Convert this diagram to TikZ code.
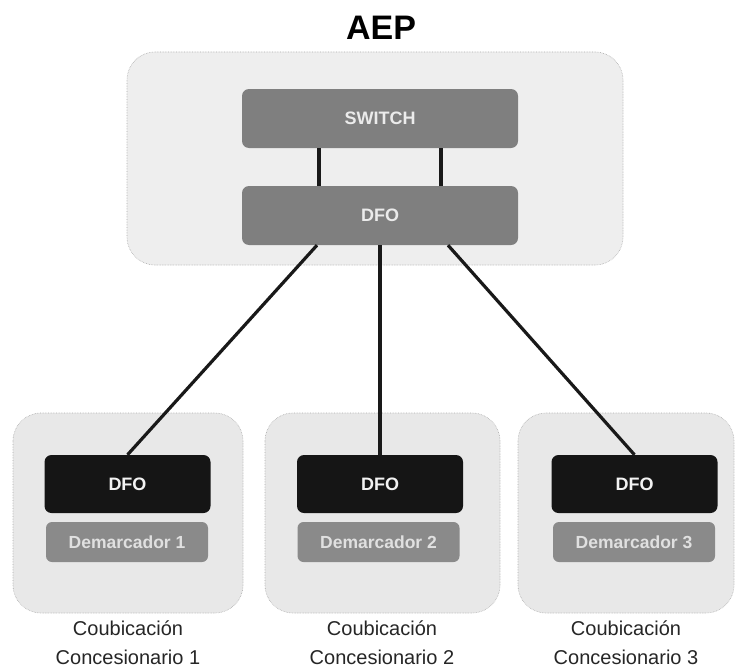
\documentclass[tikz,border=0pt]{standalone}
\usepackage{fontspec}
\setmainfont{Liberation Sans}
\definecolor{areafill}{HTML}{EEEEEE}
\definecolor{sitefill}{HTML}{E8E8E8}
\definecolor{midgray}{HTML}{7F7F7F}
\definecolor{demgray}{HTML}{8A8A8A}
\definecolor{darkbox}{HTML}{151515}
\begin{document}
\begin{tikzpicture}[x=1pt,y=-1pt,
  area/.style={draw=gray!65, densely dotted, line width=0.6pt, fill=areafill, rounded corners=28pt},
  site/.style={draw=gray!65, densely dotted, line width=0.6pt, fill=sitefill, rounded corners=28pt},
  graybox/.style={fill=midgray, rounded corners=7pt, text=white!92!black, font=\fontsize{18}{21}\selectfont\bfseries, minimum width=276pt, minimum height=59pt, inner sep=0pt},
  blackbox/.style={fill=darkbox, rounded corners=7pt, text=white!95!black, font=\fontsize{18}{21}\selectfont\bfseries, minimum width=166pt, minimum height=58pt, inner sep=0pt},
  dembox/.style={fill=demgray, rounded corners=6pt, text=white!88!black, font=\fontsize{17.5}{20}\selectfont\bfseries, minimum width=162pt, minimum height=40pt, inner sep=0pt},
  caption/.style={align=center, font=\fontsize{20}{29}\selectfont, text=black!85, inner sep=1pt},
  link/.style={line width=3.2pt, draw=black!90}]
\useasboundingbox (0,0) rectangle (738,669);
\fill[white] (0,0) rectangle (738,669);
% areas
\draw[area] (127,52) rectangle (623,265);
\draw[site] (13,413) rectangle (243,613);
\draw[site] (265,413) rectangle (500,613);
\draw[site] (518,413) rectangle (734,613);
% title
\node[font=\fontsize{34}{38}\selectfont\bfseries] (title) at (381,28) {AEP};
% AEP boxes
\node[graybox] (sw) at (380,118.5) {SWITCH};
\node[graybox] (dfoA) at (380,215.5) {DFO};
% site boxes
\node[blackbox] (dfo1) at (127.5,484) {DFO};
\node[blackbox] (dfo2) at (380,484) {DFO};
\node[blackbox] (dfo3) at (634.5,484) {DFO};
\node[dembox] (dem1) at (127,542) {Demarcador 1};
\node[dembox] (dem2) at (378.5,542) {Demarcador 2};
\node[dembox] (dem3) at (634,542) {Demarcador 3};
% captions
\node[caption] (cap1) at (128,643) {Coubicación\\Concesionario 1};
\node[caption] (cap2) at (382,643) {Coubicación\\Concesionario 2};
\node[caption] (cap3) at (626,643) {Coubicación\\Concesionario 3};
% links
\draw[link] ([xshift=-61pt]sw.south) -- ([xshift=-61pt]dfoA.north);
\draw[link] ([xshift=61pt]sw.south) -- ([xshift=61pt]dfoA.north);
\draw[link] ([xshift=-63pt]dfoA.south) -- (dfo1.north);
\draw[link] (dfoA.south) -- (dfo2.north);
\draw[link] ([xshift=68pt]dfoA.south) -- (dfo3.north);
\end{tikzpicture}
\end{document}
